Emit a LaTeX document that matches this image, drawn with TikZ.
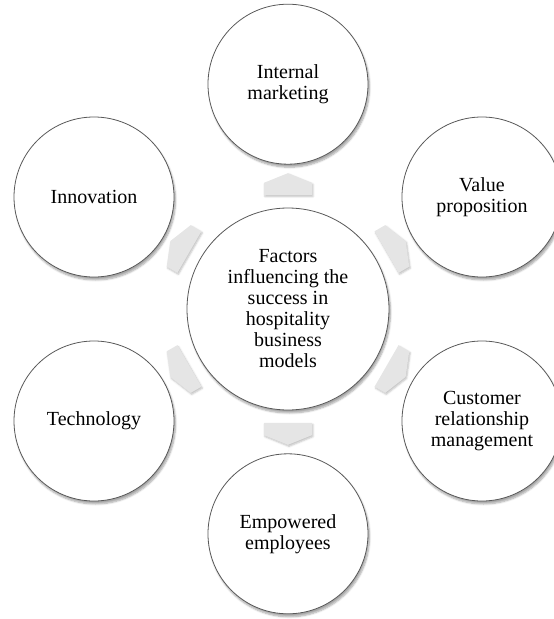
\documentclass[tikz,border=0pt]{standalone}
\usepackage{fontspec}
\setmainfont{Liberation Serif}
\usetikzlibrary{positioning}
\usetikzlibrary{shapes.symbols}
\usetikzlibrary{shadows.blur}

\tikzset{
    factor/.style={draw=black!65, line width=0.8pt, fill=white, circle, minimum size=160pt, inner sep=0pt, align=center, font=\fontsize{20}{21}\selectfont, blur shadow={shadow xshift=1.5pt, shadow yshift=-3pt, shadow blur steps=6, shadow opacity=35}},
    hub/.style={factor, minimum size=202pt},
    spoke/.style={signal, signal to=east, signal from=nowhere, signal pointer angle=136, fill=black!10, minimum width=22pt, minimum height=48pt, inner sep=0pt, blur shadow={shadow xshift=1pt, shadow yshift=-1.5pt, shadow opacity=25}}
}

\begin{document}
\begin{tikzpicture}[x=1pt, y=1pt]
    \useasboundingbox (-288,-310) rectangle (266,309);

    % Centre circle
    \node (hub) [hub] {Factors\\influencing the\\success in\\hospitality\\business\\models};

    % Outer circles
    \node (intmkt) [factor, above=43pt of hub] {Internal\\marketing};
    \node (valprop) [factor] at (30:224pt) {Value\\proposition};
    \node (crm) [factor] at (-30:224pt) {Customer\\relationship\\management};
    \node (empl) [factor, below=43pt of hub] {Empowered\\employees};
    \node (tech) [factor] at (-150:224pt) {Technology};
    \node (innov) [factor] at (150:224pt) {Innovation};

    % Arrows pointing outward
    \foreach \a [count=\i] in {90,30,-30,-90,-150,150}
        \node (sp\i) [spoke, rotate=\a] at (\a:120pt) {};
\end{tikzpicture}
\end{document}
